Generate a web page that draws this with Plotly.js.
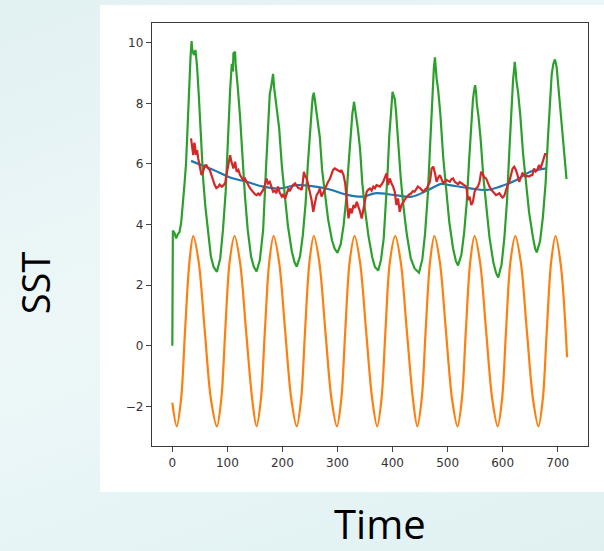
<!DOCTYPE html>
<html>
<head>
<meta charset="utf-8">
<script src="https://cdn.plot.ly/plotly-3.0.1.min.js"></script>
<style>
html, body { margin: 0; padding: 0; width: 604px; height: 551px; overflow: hidden;
  background: linear-gradient(160deg, #e2f1f2 0%, #edf7f8 45%, #e6f4f5 75%, #e0f0f1 100%); }
#chart { width: 604px; height: 551px; }
</style>
</head>
<body>
<div id="chart"></div>
<script>
// ---- data ----
const xTicks = [0, 100, 200, 300, 400, 500, 600, 700];
const yTicks = [-2, 0, 2, 4, 6, 8, 10];

// blue: smooth trend
const blueT = [34, 55, 75, 105, 135, 165, 196, 226, 260, 283, 320, 347, 368, 404, 435, 465, 489, 504, 541, 571, 595, 625, 650, 680];
const blueV = [6.1, 5.95, 5.8, 5.55, 5.41, 5.25, 5.19, 5.3, 5.25, 5.17, 4.97, 4.92, 5.03, 4.97, 4.92, 5.14, 5.34, 5.3, 5.19, 5.14, 5.25, 5.47, 5.74, 5.85];

// orange: seasonal cycle
const orangeT = [0, 8, 16, 23, 31, 38, 48, 59, 70,
  81, 89, 96, 104, 113, 123, 134, 145,
  153, 161, 168, 176, 184, 194, 205, 216,
  226, 234, 241, 249, 257, 267, 278, 289,
  299, 307, 314, 322, 331, 341, 352, 363,
  372, 380, 387, 395, 405, 415, 426, 437,
  445, 453, 460, 468, 476, 486, 497, 508,
  518, 526, 533, 541, 549, 559, 570, 581,
  591, 599, 606, 614, 623, 633, 644, 655,
  665, 673, 680, 688, 696, 706, 717];
const orangeV = [-1.88, -2.66, -1.75, 0.45, 2.75, 3.62, 2.75, 0.48, -1.75,
  -2.66, -1.75, 0.45, 2.75, 3.62, 2.75, 0.48, -1.75,
  -2.66, -1.75, 0.45, 2.75, 3.62, 2.75, 0.48, -1.75,
  -2.66, -1.75, 0.45, 2.75, 3.62, 2.75, 0.48, -1.75,
  -2.66, -1.75, 0.45, 2.75, 3.62, 2.75, 0.48, -1.75,
  -2.66, -1.75, 0.45, 2.75, 3.62, 2.75, 0.48, -1.75,
  -2.66, -1.75, 0.45, 2.75, 3.62, 2.75, 0.48, -1.75,
  -2.66, -1.75, 0.45, 2.75, 3.62, 2.75, 0.48, -1.75,
  -2.66, -1.75, 0.45, 2.75, 3.62, 2.75, 0.48, -1.75,
  -2.66, -1.75, 0.45, 2.75, 3.62, 2.6, -0.38];

// green: observed SST
const greenT = [0, 1, 4, 7, 10, 13, 16, 19, 22, 25, 28, 31, 33, 35, 36, 38, 40, 42, 45, 48, 52, 56, 60, 65, 70, 75,
  81, 87, 92, 97, 101, 105, 108, 110, 111, 114, 115, 117, 119, 123, 127, 132, 137, 143, 148,
  153, 159, 165, 170, 173, 177, 180, 183, 185, 187, 190, 194, 199, 204, 210, 217, 222,
  226, 232, 237, 242, 246, 250, 253, 255, 257, 259, 261, 264, 268, 272, 277, 283, 290, 295,
  300, 306, 311, 316, 320, 324, 327, 329, 330, 332, 334, 337, 341, 345, 350, 356, 363, 368,
  374, 379, 384, 388, 391, 394, 397, 399, 400, 402, 404, 406, 410, 415, 420, 426, 433, 440,
  448, 454, 459, 464, 468, 472, 474, 475, 477, 478, 480, 483, 487, 492, 497, 503, 510, 515,
  519, 525, 530, 535, 539, 543, 546, 548, 550, 552, 553, 556, 560, 565, 570, 576, 583, 588,
  592, 598, 603, 608, 612, 616, 619, 621, 622, 624, 625, 628, 632, 637, 642, 648, 655, 659,
  662, 668, 673, 678, 682, 686, 689, 692, 695, 698, 701, 704, 708, 712, 716];
const greenV = [0.0, 3.8, 3.72, 3.54, 3.68, 3.75, 4.05, 4.6, 5.3, 6.03, 7.5, 8.8, 9.5, 10.05, 9.8, 9.65, 9.6, 9.76, 9.2, 8.3, 6.9, 5.5, 4.6, 3.82, 2.95, 2.6,
  2.44, 2.88, 3.82, 5.1, 7.0, 8.44, 9.3, 9.05, 9.65, 9.7, 9.3, 8.77, 8.5, 7.56, 6.24, 4.92, 3.82, 2.94, 2.6,
  2.45, 2.83, 3.82, 5.8, 7.12, 8.3, 8.6, 8.97, 8.5, 8.22, 7.89, 7.19, 5.92, 4.9, 3.95, 3.12, 2.75,
  2.61, 2.95, 3.64, 4.68, 5.94, 7.2, 7.75, 8.2, 8.35, 8.1, 7.8, 7.5, 6.87, 5.81, 4.96, 4.17, 3.48, 3.2,
  3.06, 3.36, 3.96, 4.86, 5.95, 7.05, 7.65, 7.9, 8.05, 7.8, 7.55, 7.16, 6.49, 5.38, 4.49, 3.65, 2.93, 2.6,
  2.48, 2.83, 3.55, 4.6, 5.7, 6.9, 7.8, 8.25, 8.38, 8.25, 8.15, 7.8, 6.71, 5.51, 4.56, 3.66, 2.89, 2.55,
  2.41, 2.84, 3.69, 4.97, 6.53, 8.1, 8.95, 9.15, 9.52, 9.2, 8.83, 8.42, 7.6, 6.22, 5.12, 4.09, 3.2, 2.8,
  2.65, 3.0, 3.72, 4.79, 6.1, 7.41, 8.12, 8.4, 8.6, 8.3, 8.0, 7.58, 6.82, 5.55, 4.54, 3.58, 2.76, 2.4,
  2.25, 2.68, 3.53, 4.81, 6.38, 7.95, 8.8, 9.15, 9.37, 9.0, 8.74, 8.36, 7.61, 6.35, 5.34, 4.4, 3.58, 3.2,
  3.08, 3.46, 4.23, 5.37, 6.77, 8.18, 8.94, 9.3, 9.45, 9.2, 8.6, 8.0, 7.0, 6.2, 5.5];

// red: noisy anomaly-like series
const redT = [34, 36, 38, 40, 41, 43, 45, 47, 50, 53, 56, 59, 62, 65, 68, 71, 74, 77, 80, 84, 86, 90, 93, 96, 98, 102, 105, 107, 111, 114, 117, 120, 123, 126, 129, 132, 135, 138, 141, 144, 147, 150, 153, 156, 159, 162, 165, 168, 171, 174, 177, 180, 183, 186, 189, 192, 195, 199, 201, 205, 207, 211, 213, 217, 219, 223, 226, 229, 232, 235, 237, 239, 241, 244, 247, 250, 253, 256, 258, 262, 265, 268,
  271, 274, 277, 280, 283, 286, 289, 292, 295, 299, 301, 305, 307, 311, 314, 317, 320, 323, 326, 329, 332, 335, 338, 341, 344, 347, 350, 353, 356, 359, 362, 365, 368, 371, 374, 377, 380, 383, 386, 389, 392, 395, 398, 401, 404, 407, 410, 413, 416, 419, 422, 425, 428, 431, 434, 437, 440, 443, 446, 450, 453, 456, 459, 462, 465, 468, 471, 474, 477, 480, 483, 486, 489, 492, 495, 498, 501, 504, 507, 510,
  513, 516, 519, 522, 525, 528, 531, 534, 537, 540, 543, 546, 549, 552, 555, 558, 561, 564, 567, 570, 573, 576, 579, 582, 585, 588, 591, 594, 597, 600, 603, 606, 609, 612, 615, 618, 621, 624, 627, 630, 633, 636, 639, 642, 645, 648, 651, 654, 657, 660, 663, 666, 669, 672, 675, 677, 680];
const redV = [6.84, 6.5, 6.29, 6.7, 6.62, 6.3, 6.45, 6.18, 5.9, 5.63, 5.75, 5.95, 5.96, 5.85, 5.8, 5.63, 5.45, 5.3, 5.2, 5.25, 5.32, 5.25, 5.3, 5.36, 5.6, 6.07, 6.29, 6.1, 5.85, 6.07, 5.74, 5.8, 5.63, 5.55, 5.47, 5.52, 5.38, 5.3, 5.2, 5.12, 5.08, 5.0, 4.97, 5.02, 4.97, 5.05, 5.14, 5.3, 5.52, 5.35, 5.41, 5.25, 5.08, 5.12, 5.03, 5.25, 5.05, 4.92, 4.98, 4.86, 5.0, 5.19, 5.1, 5.25, 5.3, 5.36, 5.28, 5.2, 5.19, 5.14, 5.4, 5.74, 5.6, 5.52, 5.3, 5.08, 4.8, 4.42, 4.6, 4.97, 5.05, 5.19,
  4.92, 5.05, 5.19, 5.3, 5.41, 5.5, 5.63, 5.8, 5.85, 5.8, 5.78, 5.74, 5.8, 5.63, 5.36, 4.64, 4.2, 4.53, 4.37, 4.64, 4.55, 4.75, 4.6, 4.42, 4.2, 4.53, 4.86, 5.08, 5.15, 5.19, 5.12, 5.25, 5.2, 5.3, 5.28, 5.25, 5.32, 5.41, 5.55, 5.69, 5.3, 5.52, 5.36, 5.25, 5.08, 4.64, 4.86, 4.42, 4.64, 4.75, 4.81, 4.9, 4.97, 5.0, 5.03, 5.1, 5.08, 5.15, 5.25, 5.2, 5.12, 5.08, 5.15, 5.19, 5.3, 5.41, 5.85, 5.91, 5.7, 5.41, 5.55, 5.63, 5.5, 5.36, 5.42, 5.47, 5.44, 5.41, 5.5, 5.52,
  5.41, 5.38, 5.33, 5.4, 5.36, 5.3, 5.28, 5.25, 4.81, 4.92, 4.64, 4.75, 5.08, 5.2, 5.25, 5.4, 5.74, 5.63, 5.55, 5.52, 5.35, 5.25, 5.15, 5.08, 5.0, 4.97, 5.0, 5.03, 4.95, 4.89, 4.95, 5.14, 5.3, 5.41, 5.6, 5.85, 5.91, 5.8, 5.63, 5.41, 5.55, 5.69, 5.65, 5.58, 5.6, 5.58, 5.62, 5.63, 5.85, 5.75, 5.8, 5.96, 5.85, 6.02, 6.24, 6.32, 6.32];

// ---- chart ----
const lw = 2.2;
const traces = [
  {x: blueT, y: blueV, mode: 'lines', line: {color: '#1f77b4', width: lw, shape: 'spline', smoothing: 1}},
  {x: orangeT, y: orangeV, mode: 'lines', line: {color: '#ff7f0e', width: lw, shape: 'spline', smoothing: 0.9}},
  {x: greenT, y: greenV, mode: 'lines', line: {color: '#2ca02c', width: lw}},
  {x: redT, y: redV, mode: 'lines', line: {color: '#d62728', width: lw}}
];

const tickFont = {family: 'DejaVu Sans, sans-serif', size: 12, color: '#333333'};
const axisCommon = {
  ticks: 'outside', ticklen: 5, tickwidth: 1, tickcolor: '#444444',
  showline: true, mirror: true, linecolor: '#3a3a3a', linewidth: 1.2,
  showgrid: false, zeroline: false, tickfont: tickFont, fixedrange: true
};

const layout = {
  width: 604, height: 551,
  margin: {l: 152, r: 16, t: 23, b: 105, pad: 0},
  paper_bgcolor: 'rgba(0,0,0,0)',
  plot_bgcolor: '#ffffff',
  showlegend: false,
  xaxis: Object.assign({}, axisCommon, {range: [-36.9, 755], tickmode: 'array', tickvals: xTicks, ticktext: xTicks.map(String)}),
  yaxis: Object.assign({}, axisCommon, {range: [-3.31, 10.65], tickmode: 'array', tickvals: yTicks}),
  shapes: [{
    type: 'rect', xref: 'paper', yref: 'paper', layer: 'below',
    x0: -0.1193, x1: 1.04, y0: -0.1087, y1: 1.0426,
    fillcolor: '#ffffff', line: {width: 0}
  }],
  annotations: [
    {text: 'Time', xref: 'paper', yref: 'paper', x: 0.523, y: -0.183, xanchor: 'center', yanchor: 'middle',
     showarrow: false, font: {family: 'Open Sans, sans-serif', size: 40, color: '#000000'}},
    {text: 'SST', xref: 'paper', yref: 'paper', x: -0.268, y: 0.385, xanchor: 'center', yanchor: 'middle',
     textangle: -90, showarrow: false, font: {family: 'Open Sans, sans-serif', size: 38, color: '#000000'}}
  ]
};

Plotly.newPlot('chart', traces, layout, {displayModeBar: false, staticPlot: true});
</script>
</body>
</html>
